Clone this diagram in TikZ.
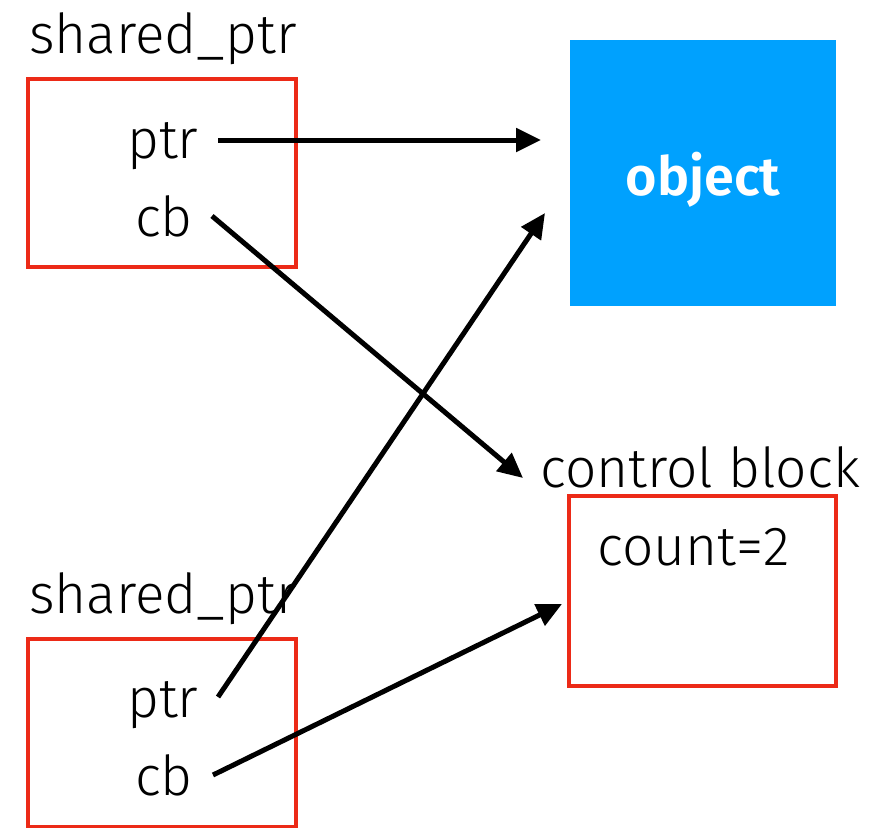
\documentclass[tikz,border=0pt]{standalone}
\usepackage{fontspec}
\setmainfont{Fira Sans}[UprightFont=* Light, BoldFont=* SemiBold]
\usepackage{xcolor}
\usetikzlibrary{arrows.meta,positioning}
\definecolor{boxred}{HTML}{EC2A17}
\definecolor{objblue}{HTML}{00A1FE}
\tikzset{
  ptrbox/.style={draw=boxred, line width=4pt, minimum width=268pt,
                 minimum height=188pt, inner sep=0pt},
  objbox/.style={fill=objblue, text=white, minimum size=266pt, inner sep=0pt,
                 font=\fontsize{54}{58}\selectfont\bfseries},
  lbl/.style={font=\fontsize{55}{60}\selectfont, inner sep=0pt, anchor=base west},
  refarrow/.style={-{Triangle[length=25pt,width=23pt]}, line width=5pt}
}

\begin{document}
\begin{tikzpicture}[x=1pt,y=-1pt]
\useasboundingbox (0,0) rectangle (891,827);
% first shared_ptr
\node[lbl] (spAlbl) at (29,53) {shared\_ptr};
\node[ptrbox] (spA) at (162,173) {};
\node[lbl] (ptrA) at (127,158) {ptr};
\node[lbl] (cbA) at (135,236) {cb};
% second shared_ptr
\node[lbl] (spBlbl) at (29,613) {shared\_ptr};
\node[ptrbox] (spB) at (162,733) {};
\node[lbl] (ptrB) at (127,717) {ptr};
\node[lbl] (cbB) at (135,795) {cb};
% pointee and control block
\node[objbox] (obj) at (703,173) {\raisebox{-22pt}[0pt][0pt]{object}};
\node[lbl] (cblbl) at (540,487) {control block};
\node[ptrbox, minimum width=267pt, minimum height=190pt] (ctl) at (702.5,591) {};
\node[lbl] (count) at (597,565) {count=2};
% arrow ends
\coordinate (ptrAout) at (218,140);
\coordinate (cbAout) at (212,216);
\coordinate (ptrBout) at (218,697);
\coordinate (cbBout) at (213,775);
\coordinate (objinA) at (541,140);
\coordinate (objinB) at (545,213);
\coordinate (ctlinA) at (523,478);
\coordinate (ctlinB) at (562,604);
\draw[refarrow] (ptrAout) -- (objinA);
\draw[refarrow] (cbAout) -- (ctlinA);
\draw[refarrow] (ptrBout) -- (objinB);
\draw[refarrow] (cbBout) -- (ctlinB);
\end{tikzpicture}
\end{document}
